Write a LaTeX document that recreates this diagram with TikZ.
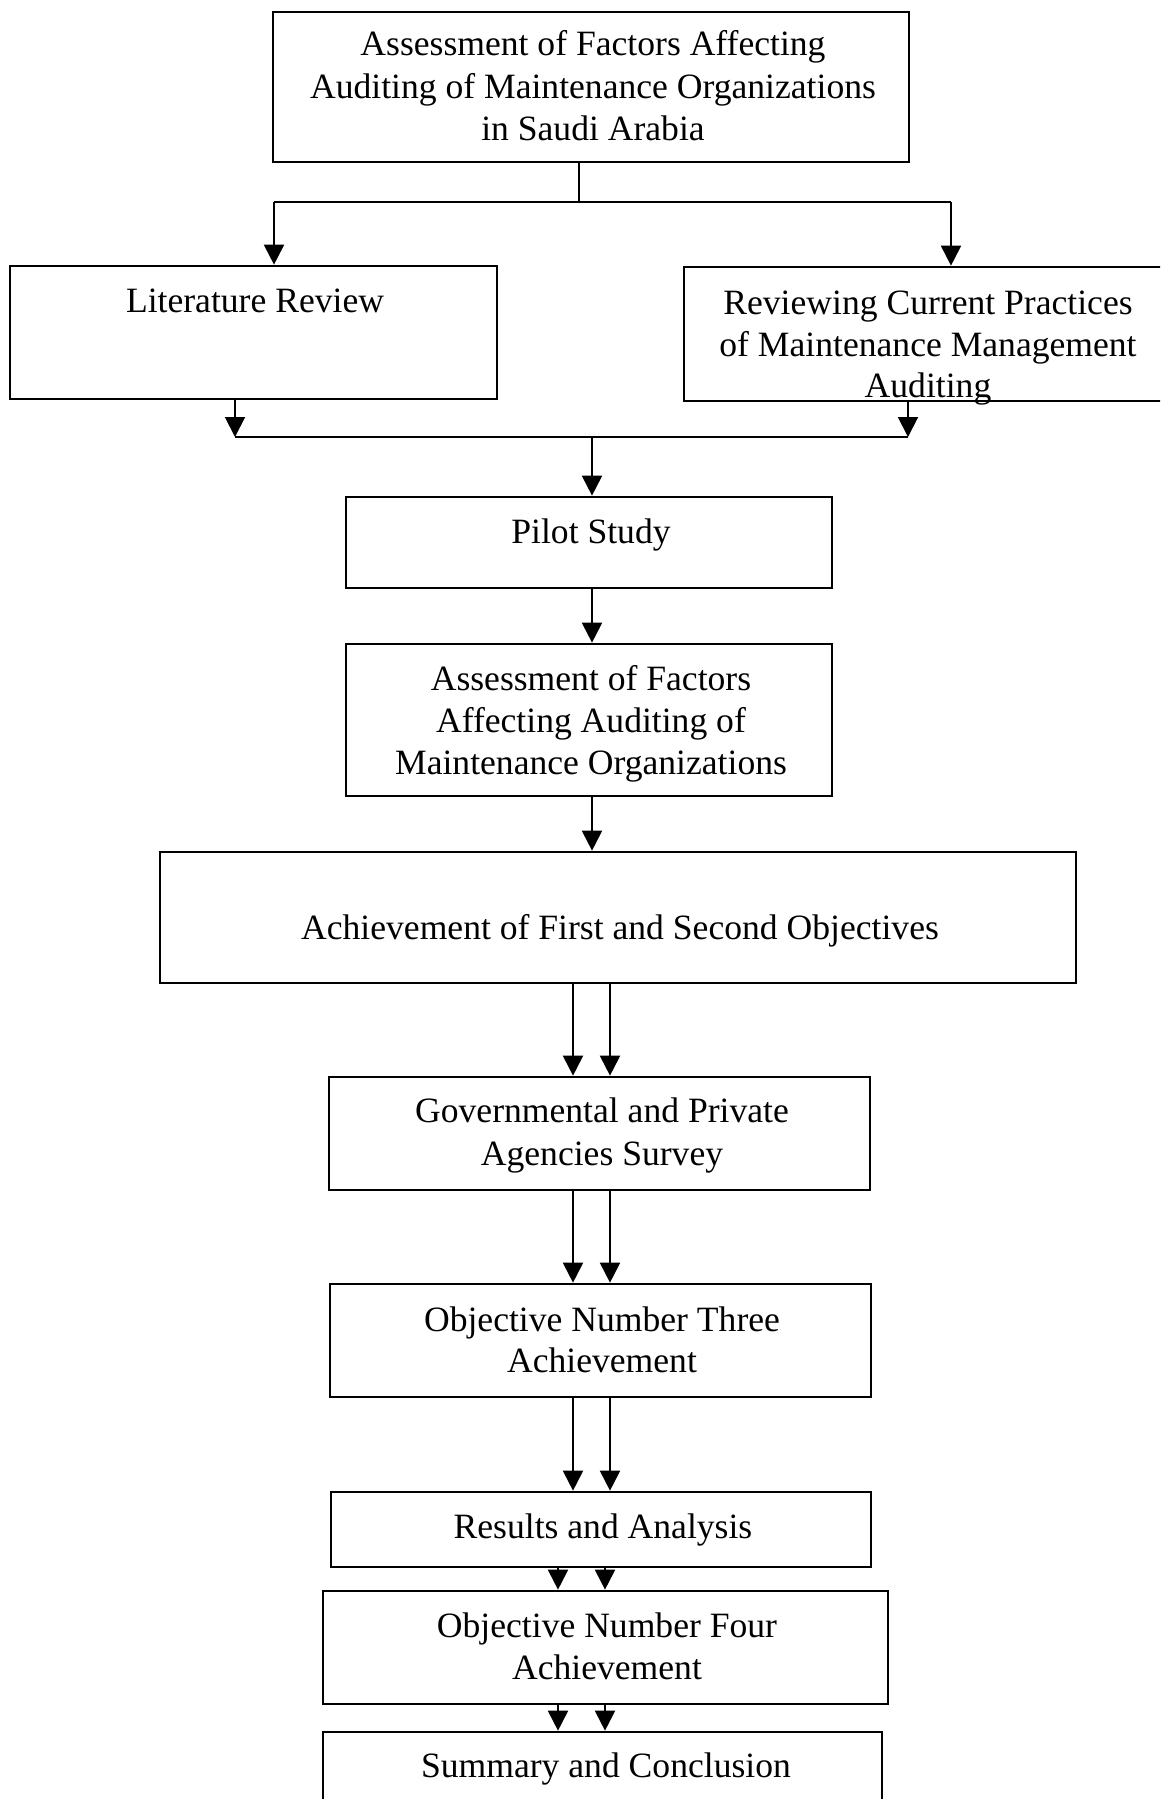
\documentclass[tikz,border=0pt]{standalone}
\usepackage{fontspec}
\setmainfont{Liberation Serif}
\usetikzlibrary{arrows.meta}
\tikzset{
  box/.style={draw=black, line width=2.7pt, rectangle, inner sep=0pt, anchor=center},
  txt/.style={anchor=base, inner sep=0pt, font=\fontsize{35.6}{42}\selectfont},
  arr/.style={line width=2pt, -{Triangle[width=20pt,length=20pt]}},
  ln/.style={line width=2.4pt}
}
\begin{document}
\begin{tikzpicture}[x=1pt,y=-1pt]
\useasboundingbox (0,0) rectangle (1160,1799);
\clip (0,0) rectangle (1160,1799);
% boxes
\node[box, minimum width=636pt, minimum height=150pt] (top) at (591,87) {};
\node[box, minimum width=487pt, minimum height=133pt] (lit) at (253.5,332.5) {};
\node[box, minimum width=516pt, minimum height=134pt] (rev) at (942,334) {};
\node[box, minimum width=486pt, minimum height=91pt] (pilot) at (589,542.5) {};
\node[box, minimum width=486pt, minimum height=152pt] (ass) at (589,720) {};
\node[box, minimum width=916pt, minimum height=131pt] (ach) at (618,917.5) {};
\node[box, minimum width=541pt, minimum height=113pt] (gov) at (599.5,1133.5) {};
\node[box, minimum width=541pt, minimum height=113pt] (obj3) at (600.5,1340.5) {};
\node[box, minimum width=540pt, minimum height=75pt] (res) at (601,1529.5) {};
\node[box, minimum width=565pt, minimum height=113pt] (obj4) at (605.5,1647.5) {};
\node[box, minimum width=559pt, minimum height=118pt] (sum) at (602.5,1791) {};
% texts
\node[txt] (t1a) at (593,55) {Assessment of Factors Affecting};
\node[txt] (t1b) at (593,98) {Auditing of Maintenance Organizations};
\node[txt] (t1c) at (593,140) {in Saudi Arabia};
\node[txt] (t2) at (255,312) {Literature Review};
\node[txt] (t3a) at (928,314) {Reviewing Current Practices};
\node[txt] (t3b) at (928,356) {of Maintenance Management};
\node[txt] (t3c) at (928,397) {Auditing};
\node[txt] (t4) at (591,543) {Pilot Study};
\node[txt] (t5a) at (591,690) {Assessment of Factors};
\node[txt] (t5b) at (591,732) {Affecting Auditing of};
\node[txt] (t5c) at (591,774) {Maintenance Organizations};
\node[txt] (t6) at (620,939) {Achievement of First and Second Objectives};
\node[txt] (t7a) at (602,1122) {Governmental and Private};
\node[txt] (t7b) at (602,1165) {Agencies Survey};
\node[txt] (t8a) at (602,1331) {Objective Number Three};
\node[txt] (t8b) at (602,1372) {Achievement};
\node[txt] (t9) at (603,1538) {Results and Analysis};
\node[txt] (t10a) at (607,1637) {Objective Number Four};
\node[txt] (t10b) at (607,1679) {Achievement};
\node[txt] (t11) at (606,1777) {Summary and Conclusion};
% connector coordinates
\coordinate (br) at (579,202);
\coordinate (bl) at (274,202);
\coordinate (brr) at (951,202);
\coordinate (ml) at (235,437);
\coordinate (mr) at (908,437);
\coordinate (mm) at (592,437);
\coordinate (d1) at (573,0);
\coordinate (d2) at (610,0);
\coordinate (e1) at (558,0);
\coordinate (e2) at (605,0);
% connectors
\draw[ln] (top.south -| br) -- (br);
\draw[ln] (bl) -- (brr);
\draw[arr] (bl) -- (lit.north -| bl);
\draw[arr] (brr) -- (rev.north -| brr);
\draw[arr] (lit.south -| ml) -- (ml);
\draw[arr] (rev.south -| mr) -- (mr);
\draw[ln] (ml) -- (mr);
\draw[arr] (mm) -- (pilot.north -| mm);
\draw[arr] (pilot.south -| mm) -- (ass.north -| mm);
\draw[arr] (ass.south -| mm) -- (ach.north -| mm);
\draw[arr] (ach.south -| d1) -- (gov.north -| d1);
\draw[arr] (ach.south -| d2) -- (gov.north -| d2);
\draw[arr] (gov.south -| d1) -- (obj3.north -| d1);
\draw[arr] (gov.south -| d2) -- (obj3.north -| d2);
\draw[arr] (obj3.south -| d1) -- (res.north -| d1);
\draw[arr] (obj3.south -| d2) -- (res.north -| d2);
\draw[arr] (res.south -| e1) -- (obj4.north -| e1);
\draw[arr] (res.south -| e2) -- (obj4.north -| e2);
\draw[arr] (obj4.south -| e1) -- (sum.north -| e1);
\draw[arr] (obj4.south -| e2) -- (sum.north -| e2);
\end{tikzpicture}
\end{document}
